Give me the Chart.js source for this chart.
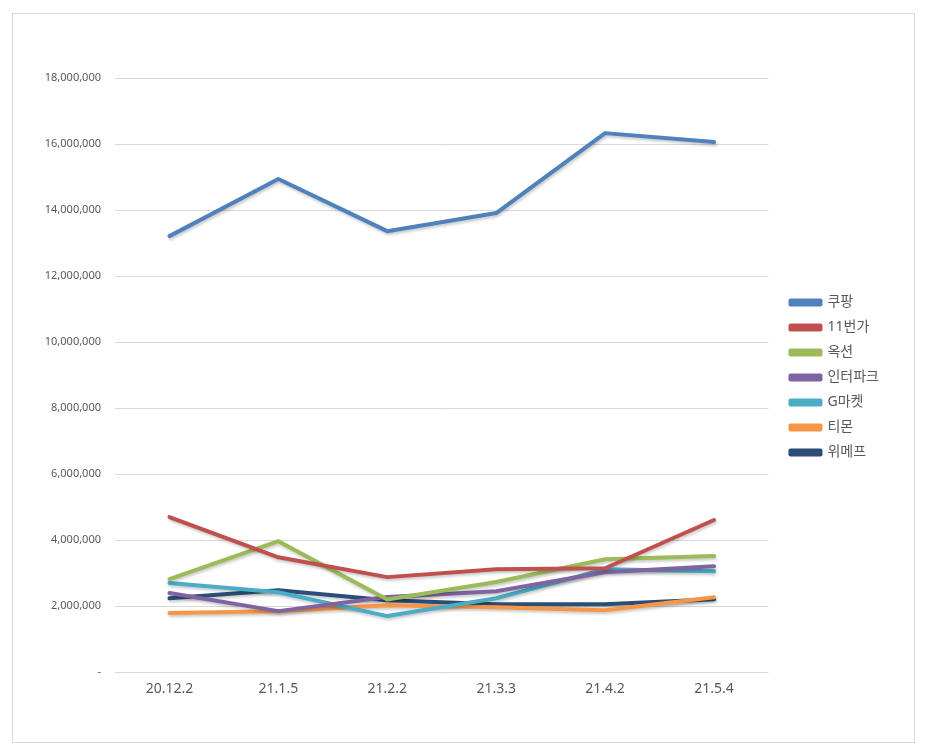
<!DOCTYPE html>
<html>
<head>
<meta charset="utf-8">
<script src="https://cdn.jsdelivr.net/npm/chart.js@4"></script>
<style>
    html, body { margin: 0; padding: 0; background: #fff; }
    #wrap {
        position: absolute;
        left: 12px; top: 13px;
        width: 901px; height: 728px;
        border: 1px solid #d9d9d9;
    }
</style>
</head>
<body>
<div id="wrap"><canvas id="chart"></canvas></div>
<script>
// Weekly visitors by shopping app
var labels = ['20.12.2', '21.1.5', '21.2.2', '21.3.3', '21.4.2', '21.5.4'];

var coupang    = [13210000, 14940000, 13360000, 13910000, 16330000, 16060000];
var st11       = [4700000, 3480000, 2880000, 3120000, 3150000, 4610000];
var auction    = [2820000, 3970000, 2200000, 2730000, 3420000, 3520000];
var interpark  = [2400000, 1850000, 2280000, 2450000, 3030000, 3210000];
var gmarket    = [2700000, 2420000, 1700000, 2240000, 3120000, 3060000];
var tmon       = [1790000, 1850000, 2030000, 1970000, 1880000, 2270000];
var wemakeprice = [2240000, 2480000, 2180000, 2060000, 2060000, 2210000];

var yTicks = [0, 2000000, 4000000, 6000000, 8000000, 10000000, 12000000, 14000000, 16000000, 18000000];

var FONT = '"Noto Sans", "Noto Sans CJK KR", sans-serif';

function series(name, values, color) {
    return {
        label: name,
        data: values,
        borderColor: color,
        backgroundColor: color,
        borderWidth: 4,
        pointRadius: 0,
        tension: 0,
        borderJoinStyle: 'round',
        borderCapStyle: 'round'
    };
}

// soft drop shadow under each line, like the office chart
var shadowPlugin = {
    id: 'lineShadow',
    beforeDatasetDraw: function(chart) {
        var ctx = chart.ctx;
        ctx.save();
        ctx.shadowColor = 'rgba(0,0,0,0.22)';
        ctx.shadowBlur = 3;
        ctx.shadowOffsetX = 1;
        ctx.shadowOffsetY = 2;
    },
    afterDatasetDraw: function(chart) {
        chart.ctx.restore();
    }
};

// legend rows are tight, but keep a wider gap between plot and legend
var LEGEND_GAP = 11;
var LEGEND_DY = -10;
var legendGapPlugin = {
    id: 'legendGap',
    beforeUpdate: function(chart) {
        var lg = chart.legend;
        if (!lg || lg._gapPatched) return;
        lg._gapPatched = true;
        var fit = lg.fit;
        lg.fit = function() {
            fit.call(this);
            this.width += LEGEND_GAP;
        };
        var draw = lg.draw;
        lg.draw = function() {
            this.left += LEGEND_GAP;
            this.top += LEGEND_DY;
            this.bottom += LEGEND_DY;
            draw.call(this);
            this.left -= LEGEND_GAP;
            this.top -= LEGEND_DY;
            this.bottom -= LEGEND_DY;
        };
    }
};

new Chart(document.getElementById('chart'), {
    type: 'line',
    data: {
        labels: labels,
        datasets: [
            series('쿠팡', coupang, '#4F81BD'),
            series('11번가', st11, '#C0504D'),
            series('옥션', auction, '#9BBB59'),
            series('인터파크', interpark, '#8064A2'),
            series('G마켓', gmarket, '#4BACC6'),
            series('티몬', tmon, '#F79646'),
            series('위메프', wemakeprice, '#2C4D75')
        ]
    },
    plugins: [shadowPlugin, legendGapPlugin],
    options: {
        responsive: true,
        maintainAspectRatio: false,
        animation: false,
        layout: {
            padding: { left: 0, right: 25, top: 64, bottom: 45 }
        },
        plugins: {
            legend: {
                position: 'right',
                labels: {
                    boxWidth: 30,
                    boxHeight: 4,
                    padding: 11,
                    color: '#595959',
                    font: { family: FONT, size: 14 }
                }
            },
            tooltip: { enabled: false }
        },
        scales: {
            x: {
                offset: true,
                grid: { display: false },
                border: { display: false },
                ticks: {
                    color: '#595959',
                    padding: 0,
                    font: { family: FONT, size: 14 }
                }
            },
            y: {
                min: 0,
                max: 18000000,
                afterFit: function(scale) { scale.width = 102; },
                afterBuildTicks: function(scale) {
                    scale.ticks = yTicks.map(function(v) { return { value: v }; });
                },
                grid: { color: '#d9d9d9', drawTicks: false },
                border: { display: false },
                ticks: {
                    color: '#595959',
                    padding: 14,
                    font: { family: FONT, size: 11 },
                    callback: function(v) {
                        return v === 0 ? '-' : v.toLocaleString('en-US');
                    }
                }
            }
        }
    }
});
</script>
</body>
</html>
